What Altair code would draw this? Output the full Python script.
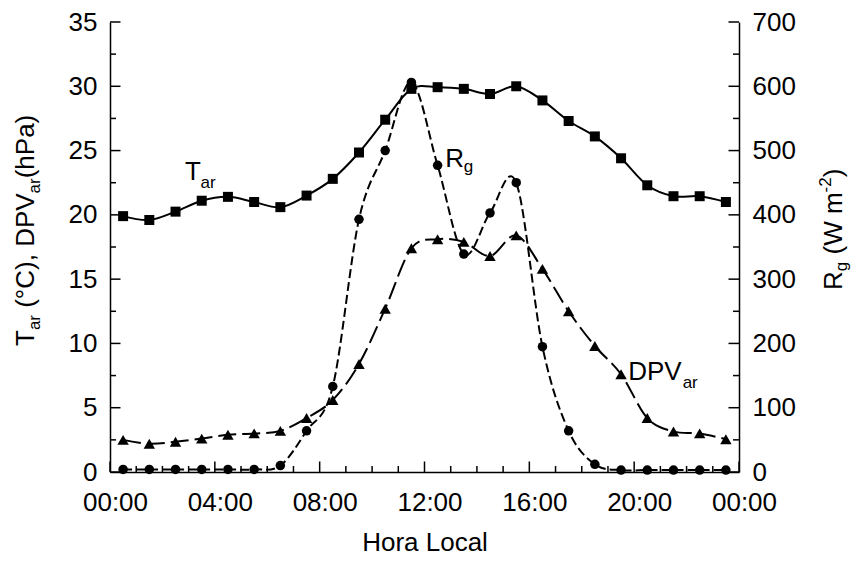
import altair as alt
import pandas as pd

# ---- data ----
hours = [0.5, 1.5, 2.5, 3.5, 4.5, 5.5, 6.5, 7.5, 8.5, 9.5, 10.5, 11.5,
         12.5, 13.5, 14.5, 15.5, 16.5, 17.5, 18.5, 19.5, 20.5, 21.5, 22.5, 23.5]
tar = [19.9, 19.6, 20.25, 21.1, 21.4, 21.0, 20.6, 21.5, 22.8, 24.85, 27.4, 29.8,
       29.93, 29.8, 29.4, 30.0, 28.9, 27.3, 26.1, 24.4, 22.3, 21.45, 21.45, 21.0]
dpv = [2.5, 2.2, 2.35, 2.6, 2.9, 3.0, 3.2, 4.2, 5.6, 8.4, 12.7, 17.4,
       18.1, 17.9, 16.8, 18.4, 15.8, 12.5, 9.8, 7.6, 4.2, 3.15, 3.0, 2.55]
rg = [4, 4, 4, 4, 4, 4, 10, 64, 133, 393, 500, 606,
      477, 339, 403, 450, 195, 64, 12, 3, 3, 3, 3, 3]

x_major = [0, 4, 8, 12, 16, 20, 24]
x_minor = [1, 2, 3, 5, 6, 7, 9, 10, 11, 13, 14, 15, 17, 18, 19, 21, 22, 23]
left_major = [0, 5, 10, 15, 20, 25, 30, 35]
left_minor = [2.5, 7.5, 12.5, 17.5, 22.5, 27.5, 32.5]
right_major = [0, 100, 200, 300, 400, 500, 600, 700]
right_minor = [50, 150, 250, 350, 450, 550, 650]

# ---- style ----
W, H = 629, 450
FONT = "Liberation Sans"
FS = 26
SUB = 17
MAJ, MIN = 10.5, 6
SP = 7.2  # width of a space at FS

xs = alt.Scale(domain=[0, 24], nice=False, zero=False)
ys = alt.Scale(domain=[0, 35], nice=False)
rs = alt.Scale(domain=[0, 700], nice=False)

X = alt.X("h:Q", scale=xs, axis=alt.Axis(
    values=x_major, ticks=False, tickSize=0, grid=False, labelPadding=17,
    labelExpr="(datum.value % 24 < 10 ? '0' : '') + (datum.value % 24) + ':00'",
    labelOffset=5, labelFontSize=FS, labelFont=FONT, labelColor="black",
    domainColor="black", domainWidth=1.5, title="Hora Local",
    titleFont=FONT, titleFontSize=FS, titleFontWeight="normal", titleColor="black",
    titlePadding=14, labelFlush=False, labelOverlap=False))
YL = alt.Y("v:Q", scale=ys, axis=alt.Axis(
    values=left_major, ticks=False, tickSize=0, grid=False, labelPadding=13,
    labelFontSize=FS, labelFont=FONT, labelColor="black", domainColor="black",
    domainWidth=1.5, title=None, labelFlush=False, labelOverlap=False))
YR = alt.Y("v:Q", scale=rs, axis=alt.Axis(
    orient="right", values=right_major, ticks=False, tickSize=0, grid=False,
    labelPadding=13, labelFontSize=FS, labelFont=FONT, labelColor="black",
    domainColor="black", domainWidth=1.5, title=None, labelFlush=False,
    labelOverlap=False))

tar_df = pd.DataFrame({"h": hours, "v": tar})
dpv_df = pd.DataFrame({"h": hours, "v": dpv})
rg_df = pd.DataFrame({"h": hours, "v": rg})

def line(df, y, dash=None):
    kw = dict(interpolate="cardinal", color="black", strokeWidth=2)
    if dash:
        kw["strokeDash"] = dash
    return alt.Chart(df).mark_line(**kw).encode(x=X, y=y)

def pts(df, y, shape, size):
    return alt.Chart(df).mark_point(shape=shape, size=size, filled=True,
                                    color="black", opacity=1).encode(x=X, y=y)

def txt(h, v, text, size, dx=0, dy=0, y=YL):
    return alt.Chart(pd.DataFrame({"h": [h], "v": [v]})).mark_text(
        text=text, font=FONT, fontSize=size, align="left", baseline="alphabetic",
        color="black", dx=dx, dy=dy).encode(x=X, y=y)

def rtxt(px, py, text, size, dx=0, dy=0):
    return alt.Chart(pd.DataFrame({"a": [0]})).mark_text(
        text=text, font=FONT, fontSize=size, align="left", baseline="alphabetic",
        color="black", angle=270, dx=dx, dy=dy).encode(x=alt.value(px), y=alt.value(py))

# tick rules (inward)
lmaj = alt.Chart(pd.DataFrame({"v": left_major})).mark_rule(color="black", strokeWidth=1.5).encode(
    y=YL, x=alt.value(0), x2=alt.value(MAJ))
lmin = alt.Chart(pd.DataFrame({"v": left_minor})).mark_rule(color="black", strokeWidth=1.5).encode(
    y=YL, x=alt.value(0), x2=alt.value(MIN))
xmaj = alt.Chart(pd.DataFrame({"h": x_major})).mark_rule(color="black", strokeWidth=1.5).encode(
    x=X, y=alt.value(H), y2=alt.value(H - MAJ))
xmin = alt.Chart(pd.DataFrame({"h": x_minor})).mark_rule(color="black", strokeWidth=1.5).encode(
    x=X, y=alt.value(H), y2=alt.value(H - MIN))
rmaj = alt.Chart(pd.DataFrame({"v": right_major})).mark_rule(color="black", strokeWidth=1.5).encode(
    y=YR, x=alt.value(W - MAJ), x2=alt.value(W))
rmin = alt.Chart(pd.DataFrame({"v": right_minor})).mark_rule(color="black", strokeWidth=1.5).encode(
    y=YR, x=alt.value(W - MIN), x2=alt.value(W))

# rotated axis titles built from pieces (sub/superscripts)
lx, ly = -76, 324
left_title = [
    rtxt(lx, ly, "T", FS, dx=0),
    rtxt(lx, ly, "ar", SUB, dx=15.9, dy=6),
    rtxt(lx, ly, "(°C), DPV", FS, dx=31.0 + SP),
    rtxt(lx, ly, "ar", SUB, dx=152.6, dy=6),
    rtxt(lx, ly, "(hPa)", FS, dx=167.7),
]
rx, ry = 732, 268
right_title = [
    rtxt(rx, ry, "R", FS, dx=0),
    rtxt(rx, ry, "g", SUB, dx=18.8, dy=5),
    rtxt(rx, ry, "(W m", FS, dx=28.3 + SP),
    rtxt(rx, ry, "-2", SUB, dx=97.6, dy=-11),
    rtxt(rx, ry, ")", FS, dx=112.7),
]

annot = [
    txt(2.86, 22.7, "T", FS),
    txt(2.86, 22.7, "ar", SUB, dx=15.5, dy=8),
    txt(19.77, 7.15, "DPV", FS),
    txt(19.77, 7.15, "ar", SUB, dx=54.5, dy=8),
]
annot_r = [
    txt(12.79, 474, "R", FS, y=YR),
    txt(12.79, 474, "g", SUB, dx=18.5, dy=5, y=YR),
]

left = alt.layer(
    lmaj, lmin, xmaj, xmin,
    line(tar_df, YL), line(dpv_df, YL, [18, 6]),
    pts(tar_df, YL, "square", 100), pts(dpv_df, YL, "triangle-up", 130),
    *annot, *left_title,
)
right = alt.layer(
    rmaj, rmin,
    line(rg_df, YR, [9, 4]), pts(rg_df, YR, "circle", 90),
    *annot_r, *right_title,
)

chart = alt.layer(left, right).resolve_scale(y="independent").properties(
    width=W, height=H,
    padding={"left": 102, "top": 14, "right": 116, "bottom": 85},
    autosize=alt.AutoSizeParams(type="none"),
).configure_view(strokeWidth=0)

chart.save("out.html", embed_options={"renderer": "svg", "actions": False})
